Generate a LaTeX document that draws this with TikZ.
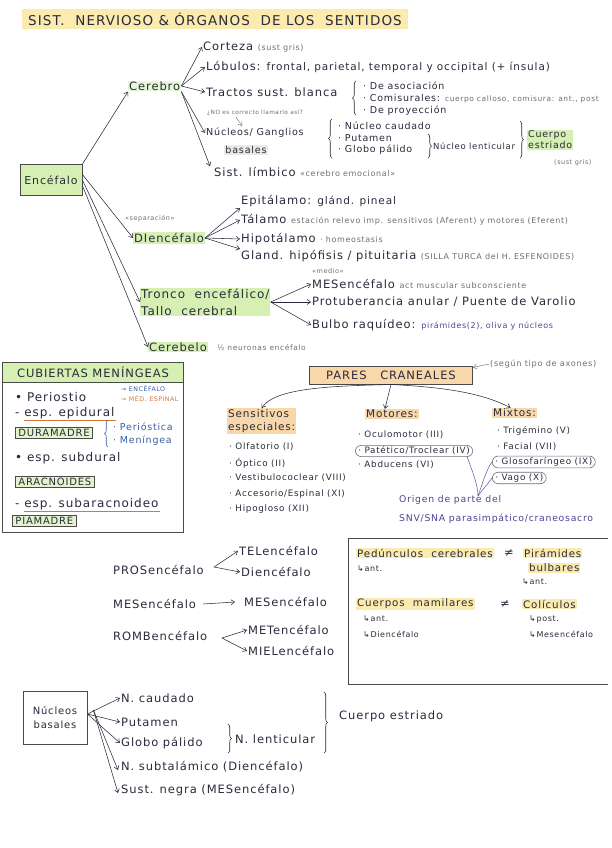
\documentclass[tikz,border=0pt]{standalone}
\usepackage{fontspec}
\setmainfont[LetterSpace=8]{DejaVu Sans}
\usetikzlibrary{arrows.meta,decorations.pathreplacing,calc}
\definecolor{ink}{HTML}{2A2B3C}
\definecolor{note}{HTML}{6E6E78}
\definecolor{bluen}{HTML}{3A5EA8}
\definecolor{purp}{HTML}{4A4790}
\definecolor{orn}{HTML}{D27A3C}
\definecolor{hlgreen}{HTML}{D6F0B4}
\definecolor{hlorange}{HTML}{F8D7AA}
\definecolor{hlyellow}{HTML}{FBEBAE}
\definecolor{hlgray}{HTML}{E7EBE3}
\definecolor{boxline}{HTML}{4A4A4A}
\newcommand\smnote[1]{{\color{note}\fontsize{8}{9.5}\selectfont #1}}
\newcommand\mdnote[1]{{\fontsize{10.5}{12}\selectfont #1}}
\tikzset{
  txt/.style={anchor=west, inner sep=1pt, text=ink, font=\fontsize{11.5}{14}\selectfont},
  itm/.style={anchor=west, inner sep=1pt, text=ink, font=\fontsize{9.5}{11}\selectfont},
  pitm/.style={anchor=west, inner sep=1pt, text=ink, font=\fontsize{8.8}{10}\selectfont},
  sml/.style={anchor=west, inner sep=1pt, text=note, font=\fontsize{6.5}{8}\selectfont},
  arr/.style={draw=ink, line width=0.55pt, -{Straight Barb[length=3.5pt,width=5pt]}},
  ln/.style={draw=ink, line width=0.55pt},
  brl/.style={draw=ink, line width=0.6pt, decorate, decoration={brace, amplitude=3.5pt}},
  lbox/.style={anchor=west, draw=boxline, line width=0.9pt, fill=hlgreen!70, inner xsep=3pt, inner ysep=2pt, text=ink, font=\fontsize{10}{12}\selectfont},
  cubt/.style={anchor=west, inner sep=1pt, text=ink, font=\fontsize{12}{14}\selectfont},
  ellip/.style={draw=note, rounded corners=6pt, line width=0.6pt, inner xsep=3pt, inner ysep=1.5pt},
}
\begin{document}
\begin{tikzpicture}[x=1pt,y=-1pt]
\useasboundingbox (0,0) rectangle (612,848);
\fill[white] (0,0) rectangle (612,848);

% ---------- title
\node[anchor=west, fill=hlyellow, inner xsep=6pt, inner ysep=4pt, text=ink, font=\fontsize{13.5}{16}\selectfont] (title) at (22,19) {SIST.\ \ NERVIOSO \& ÓRGANOS\ \ DE LOS\ \ SENTIDOS};

% ---------- Encefalo
\node[draw=boxline, line width=0.8pt, fill=hlgreen, minimum width=62, minimum height=31, inner sep=1pt, text=ink, font=\fontsize{11}{13}\selectfont] (enc) at (51,180) {Encéfalo};

% ---------- Cerebro
\node[txt, fill=hlgreen!55] (cer) at (128,86) {Cerebro};
\node[txt] (cort) at (202,47) {Corteza \smnote{(sust gris)}};
\node[txt] (lob) at (205,67) {Lóbulos: \mdnote{frontal, parietal, temporal y occipital (+ ínsula)}};
\node[txt] (tract) at (205,92) {Tractos sust. blanca};
\node[sml, font=\fontsize{5.8}{7}\selectfont] (nota) at (206,113) {¿NO es correcto llamarlo así?};
\node[txt, font=\fontsize{9.6}{12}\selectfont] (nuc) at (205,133) {Núcleos/ Ganglios};
\node[txt, anchor=center, fill=hlgray, font=\fontsize{9.6}{12}\selectfont] (bas) at (246,150) {basales};
\node[txt] (lim) at (213,172) {Sist. límbico \smnote{«cerebro emocional»}};

\draw[arr] (cer.east) -- (cort.west);
\draw[arr] (cer.east) -- (lob.west);
\draw[arr] (cer.east) -- (tract.west);
\draw[arr] (cer.south east) -- (nuc.west);
\draw[arr] (cer.south east) -- ([xshift=-3pt]lim.north west);
\draw[arr, line width=0.4pt, draw=note] ([xshift=30pt]nota.south west) -- ([xshift=37pt,yshift=1pt]nuc.north west);

% tractos brace
\draw[brl] (356,115) -- (356,81);
\node[itm] (tr1) at (362,86) {· De asociación};
\node[itm] (tr2) at (362,98.5) {· Comisurales: {\color{note}\fontsize{7.5}{9}\selectfont cuerpo calloso, comisura: ant., post}};
\node[itm] (tr3) at (362,111) {· De proyección};

% nucleos brace
\draw[brl] (332,158) -- (332,119);
\node[itm] (n1) at (337,126) {· Núcleo caudado};
\node[itm] (n2) at (337,138) {· Putamen};
\node[itm] (n3) at (337,150) {· Globo pálido};
\draw[brl] (428,134) -- (428,158);
\node[itm, font=\fontsize{8.5}{10}\selectfont] (nlent) at (432,146) {Núcleo lenticular};
\draw[brl] (520,121) -- (520,158);
\node[itm, fill=hlgreen, align=left] (cest) at (527,140) {Cuerpo\\estriado};
\node[sml] (cestn) at (553,163) {(sust gris)};

% ---------- Diencefalo
\node[sml] (sep) at (124,219) {«separación»};
\node[txt, fill=hlgreen] (dien) at (133,238) {DIencéfalo};
\node[txt] (epi) at (240,201) {Epitálamo: \mdnote{glánd. pineal}};
\node[txt] (tal) at (240,220) {Tálamo \smnote{estación relevo imp. sensitivos (Aferent) y motores (Eferent)}};
\node[txt] (hipo) at (240,239) {Hipotálamo \smnote{· homeostasis}};
\node[txt] (gland) at (240,256) {Gland. hipófisis / pituitaria \smnote{(SILLA TURCA del H. ESFENOIDES)}};
\draw[arr] (dien.east) -- (epi.south west);
\draw[arr] (dien.east) -- (tal.west);
\draw[arr] (dien.east) -- (hipo.west);
\draw[arr] (dien.east) -- (gland.north west);

% ---------- Tronco
\node[txt, fill=hlgreen, align=left, font=\fontsize{12}{17}\selectfont] (tronco) at (140,302) {Tronco\ \ encefálico/\\Tallo\ \ cerebral};
\node[sml] (medio) at (311,271) {«medio»};
\node[txt] (mes) at (311,284) {MESencéfalo \smnote{act muscular subconsciente}};
\node[txt] (prot) at (311,302) {Protuberancia anular / Puente de Varolio};
\node[txt] (bulbo) at (311,325) {Bulbo raquídeo: {\color{purp}\fontsize{8}{9}\selectfont pirámides(2), oliva y núcleos}};
\draw[arr] (tronco.east) -- (mes.west);
\draw[arr] (tronco.east) -- (prot.west);
\draw[arr] (tronco.east) -- (bulbo.west);

% ---------- Cerebelo
\node[txt, fill=hlgreen] (cerebelo) at (148,347) {Cerebelo};
\node[sml, font=\fontsize{7.5}{9}\selectfont] (cbn) at (216,348) {½ neuronas encéfalo};

% Encefalo connectors
\draw[arr] (enc.north east) -- (cer.south west);
\draw[arr] (enc.10) -- (dien.west);
\draw[arr] (enc.0) -- (tronco.west);
\draw[arr] (enc.-10) -- (cerebelo.west);

% ---------- Cubiertas meningeas
\node[draw=boxline, line width=1pt, minimum width=181, minimum height=170, anchor=north west, inner sep=0] (cub) at (2,362) {};
\node[draw=boxline, line width=1pt, fill=hlgreen, minimum width=181, minimum height=20, anchor=north west, inner sep=0, text=ink, font=\fontsize{11.5}{13}\selectfont] (cubh) at (cub.north west) {CUBIERTAS MENÍNGEAS};
\node[cubt] (peri) at (14,397) {• Periostio};
\node[anchor=west, inner sep=1pt, text=bluen, font=\fontsize{6.3}{7.5}\selectfont] (menc) at (120,389) {→ ENCÉFALO};
\node[anchor=west, inner sep=1pt, text=orn, font=\fontsize{6.3}{7.5}\selectfont] (mesp) at (120,399) {→ MÉD. ESPINAL};
\node[cubt] (epid) at (14,413) {- esp. epidural};
\draw[orn, line width=0.6pt] ([xshift=10pt]epid.south west) -- (epid.south east);
\node[lbox] (dura) at (15,433) {DURAMADRE};
\draw[brl, draw=bluen] (108,447) -- (108,420);
\node[anchor=west, inner sep=1pt, text=bluen, font=\fontsize{9.5}{11}\selectfont] (perio) at (112,427) {· Perióstica};
\node[anchor=west, inner sep=1pt, text=bluen, font=\fontsize{9.5}{11}\selectfont] (menin) at (112,441) {· Meníngea};
\node[cubt] (subd) at (14,458) {• esp. subdural};
\node[lbox] (arac) at (15,482) {ARACNOIDES};
\node[cubt] (subar) at (14,504) {- esp. subaracnoideo};
\draw[orn, line width=0.6pt] ([xshift=10pt]subar.south west) -- (subar.south east);
\node[lbox] (pia) at (12,521) {PIAMADRE};

% ---------- Pares craneales
\node[draw=boxline, line width=1pt, fill=hlorange, minimum width=163, minimum height=18, inner sep=1pt, text=ink, font=\fontsize{11.5}{13}\selectfont] (pares) at (391,375) {PARES\ \ \ CRANEALES};
\node[sml, font=\fontsize{8.2}{9}\selectfont] (segun) at (489,364) {(según tipo de axones)};
\draw[arr, line width=0.45pt, draw=note] (segun.west) -- ([yshift=-2pt]pares.north east);

\node[txt, fill=hlorange, align=left, font=\fontsize{10.5}{13.5}\selectfont] (sens) at (227,421) {Sensitivos\\especiales:};
\node[txt, fill=hlorange, font=\fontsize{10.5}{12}\selectfont] (mot) at (365,414) {Motores:};
\node[txt, fill=hlorange, font=\fontsize{10.5}{12}\selectfont] (mix) at (492,413) {Mixtos:};
\draw[arr] (pares.south) .. controls (330,386) and (275,388) .. (sens.north);
\draw[arr] (pares.south) -- ([xshift=-7pt]mot.north);
\draw[arr] (pares.south) .. controls (440,387) and (480,392) .. ([xshift=-4pt]mix.north);

\node[pitm] (s1) at (228,447) {· Olfatorio (I)};
\node[pitm] (s2) at (228,463) {· Óptico (II)};
\node[pitm] (s3) at (228,478) {· Vestibulococlear (VIII)};
\node[pitm] (s4) at (228,494) {· Accesorio/Espinal (XI)};
\node[pitm] (s5) at (228,509) {· Hipogloso (XII)};

\node[pitm] (m1) at (357,435) {· Oculomotor (III)};
\node[pitm, ellip] (m2) at (355,451) {· Patético/Troclear (IV)};
\node[pitm] (m3) at (357,465) {· Abducens (VI)};

\node[pitm] (x1) at (496,431) {· Trigémino (V)};
\node[pitm] (x2) at (496,447) {· Facial (VII)};
\node[pitm, ellip] (x3) at (492,462) {· Glosofaríngeo (IX)};
\node[pitm, ellip] (x4) at (492,478) {· Vago (X)};

\node[itm, text=purp, font=\fontsize{9.3}{11}\selectfont] (orig1) at (398,500) {Origen de parte del};
\node[itm, text=purp, font=\fontsize{9.3}{11}\selectfont] (orig2) at (398,519) {SNV/SNA parasimpático/craneosacro};
\coordinate (conv) at (478,496);
\draw[ln, draw=purp, line width=0.45pt] ([xshift=-6pt]m2.south east) .. controls (472,470) and (478,485) .. (conv);
\draw[ln, draw=purp, line width=0.45pt] (x3.west) .. controls (486,470) and (482,485) .. (conv);
\draw[ln, draw=purp, line width=0.45pt] (x4.west) .. controls (488,484) and (482,490) .. (conv);

% ---------- Prosencefalo etc
\node[txt] (pros) at (112,570) {PROSencéfalo};
\node[txt] (tel) at (238,551) {TELencéfalo};
\node[txt] (dien2) at (240,572) {Diencéfalo};
\coordinate (pv) at (214,567);
\draw[arr] (pv) -- (tel.west);
\draw[arr] (pv) -- (dien2.west);
\node[txt] (mes1) at (112,604) {MESencéfalo};
\node[txt] (mes2) at (243,602) {MESencéfalo};
\draw[arr] ([xshift=6pt]mes1.east) -- ([xshift=-8pt]mes2.west);
\node[txt] (romb) at (112,636) {ROMBencéfalo};
\node[txt] (met) at (247,630) {METencéfalo};
\node[txt] (miel) at (247,651) {MIELencéfalo};
\coordinate (rv) at (222,638);
\draw[arr] (rv) -- (met.west);
\draw[arr] (rv) -- (miel.west);

% ---------- right box
\draw[boxline, line width=0.9pt] (608,538) -- (348,538) -- (348,684) -- (608,684);
\node[txt, font=\fontsize{10.3}{12}\selectfont, fill=hlyellow] (ped) at (356,553) {Pedúnculos\ \ cerebrales};
\node[txt] (neq1) at (503,553) {≠};
\node[txt, font=\fontsize{10.3}{12}\selectfont, fill=hlyellow] (pir) at (523,553) {Pirámides};
\node[txt, font=\fontsize{10.3}{12}\selectfont, fill=hlyellow] (bulb) at (528,568) {bulbares};
\node[itm, font=\fontsize{8}{9}\selectfont] (pa1) at (356,569) {↳ant.};
\node[itm, font=\fontsize{8}{9}\selectfont] (pa2) at (521,582) {↳ant.};
\node[txt, font=\fontsize{10.3}{12}\selectfont, fill=hlyellow] (cmam) at (356,604) {Cuerpos\ \ mamilares};
\node[txt] (neq2) at (499,604) {≠};
\node[txt, font=\fontsize{10.3}{12}\selectfont, fill=hlyellow] (col) at (522,604) {Colículos};
\node[itm, font=\fontsize{8}{9}\selectfont] (ca1) at (362,619) {↳ant.};
\node[itm, font=\fontsize{8}{9}\selectfont] (ca2) at (362,634) {↳Diencéfalo};
\node[itm, font=\fontsize{8}{9}\selectfont] (co1) at (528,619) {↳post.};
\node[itm, font=\fontsize{8}{9}\selectfont] (co2) at (528,634) {↳Mesencéfalo};

% ---------- Nucleos basales (bottom)
\node[draw=boxline, line width=0.8pt, minimum width=64, minimum height=53, align=center, inner sep=1pt, text=ink, font=\fontsize{10}{14}\selectfont] (nb) at (55,718) {Núcleos\\basales};
\node[txt] (b1) at (120,698) {N. caudado};
\node[txt] (b2) at (120,722) {Putamen};
\node[txt] (b3) at (120,743) {Globo pálido};
\node[txt] (b4) at (120,767) {N. subtalámico (Diencéfalo)};
\node[txt] (b5) at (120,790) {Sust. negra (MESencéfalo)};
\draw[arr] ([yshift=4pt]nb.east) -- (b1.west);
\draw[arr] ([yshift=4pt]nb.east) -- (b2.west);
\draw[arr] ([yshift=4pt]nb.east) -- (b3.west);
\draw[arr] ([xshift=6pt,yshift=8pt]nb.east) -- ([xshift=-2pt,yshift=-3pt]b4.west);
\draw[arr] ([xshift=6pt,yshift=8pt]nb.east) -- ([xshift=-2pt,yshift=-3pt]b5.west);
\draw[brl] (228,724) -- (228,753);
\node[txt] (nlen2) at (234,739) {N. lenticular};
\draw[brl] (324,692) -- (324,753);
\node[txt] (cest2) at (338,716) {Cuerpo estriado};
\end{tikzpicture}
\end{document}
